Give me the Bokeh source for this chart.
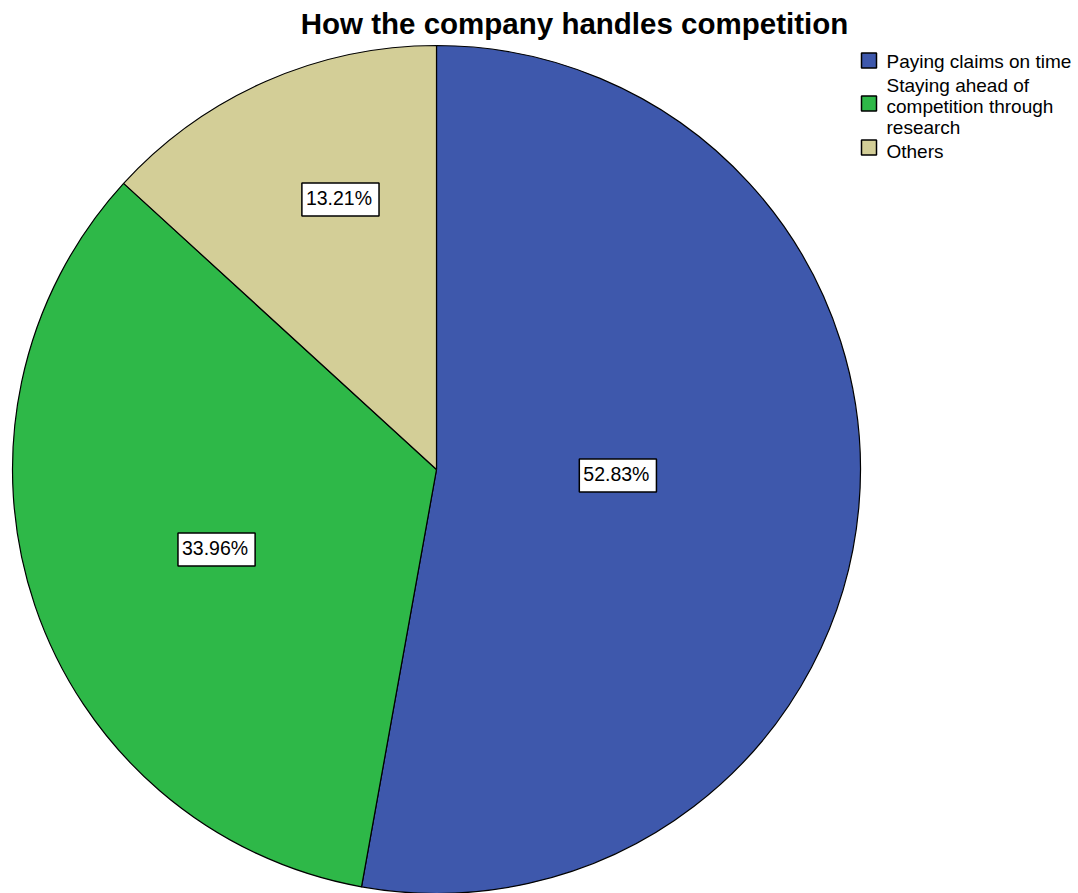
import math
from bokeh.plotting import figure
from bokeh.models import ColumnDataSource, Range1d
from bokeh.core.properties import value
from bokeh.embed import file_html
from bokeh.resources import INLINE

# ---- data ----
title_text = "How the company handles competition"
categories = ["Paying claims on time", "Staying ahead of\ncompetition through\nresearch", "Others"]
percents = [52.83, 33.96, 13.21]
colors = ["#3e58ac", "#2eb848", "#d3ce97"]

# ---- layout / style ----
W, H = 1078, 893
CX, CY, R = 436, H - 469, 424
label_r_frac = [0.428, 0.552, 0.676]
label_nudge_deg = [3.2, 1.3, -4.2]
FONT = value("Liberation Sans")

p = figure(width=W, height=H, x_range=Range1d(0, W), y_range=Range1d(0, H),
           output_backend="svg", toolbar_location=None, min_border=0)
p.axis.visible = False
p.grid.visible = False
p.outline_line_color = None
p.background_fill_color = "white"

total = sum(percents)
starts, ends, mids = [], [], []
a = math.pi / 2
for v in percents:
    e = a - 2 * math.pi * v / total
    starts.append(a)
    ends.append(e)
    mids.append((a + e) / 2)
    a = e

src = ColumnDataSource(dict(start=starts, end=ends, color=colors,
                            x=[CX] * 3, y=[CY] * 3))
p.wedge(x="x", y="y", radius=R, start_angle="start", end_angle="end",
        direction="clock", fill_color="color", line_color="black",
        line_width=1.2, source=src)

lx, ly, lt = [], [], []
for m, f, n, v in zip(mids, label_r_frac, label_nudge_deg, percents):
    ang = m + math.radians(n)
    lx.append(CX + f * R * math.cos(ang))
    ly.append(CY + f * R * math.sin(ang))
    lt.append(f"{v:.2f}%")
p.text(x=lx, y=ly, text=lt, text_font=FONT, text_font_size="19.5px",
       text_align="center", text_baseline="middle", text_color="black",
       background_fill_color="white", border_line_color="black",
       border_line_width=1.5, padding=[4, 7, 4, 7])

# title
p.text(x=[574], y=[H - 23], text=[title_text], text_font=FONT,
       text_font_size="29.5px", text_font_style="bold", text_align="center",
       text_baseline="middle", text_color="black")

# legend (manual)
sq_y = [60, 103, 147]
txt_y = [61, 106, 151]
p.rect(x=[868.5] * 3, y=[H - y for y in sq_y], width=15, height=15,
       fill_color=colors, line_color="black", line_width=1.5)
p.text(x=[886] * 3, y=[H - y for y in txt_y], text=categories, text_font=FONT,
       text_font_size="19px", text_align="left", text_baseline="middle",
       text_color="black", text_line_height=1.0)

open("out.html", "w").write(file_html(p, INLINE))
